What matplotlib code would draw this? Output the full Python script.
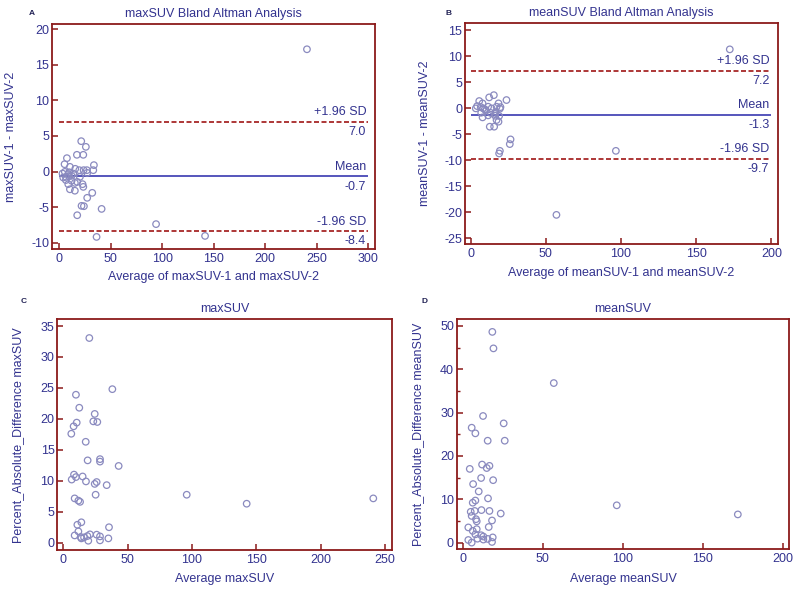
import numpy as np
import matplotlib.pyplot as plt
from matplotlib.ticker import MultipleLocator
import matplotlib.transforms as mtransforms

plt.rcParams['font.family'] = ['Liberation Sans', 'DejaVu Sans']
plt.rcParams['font.size'] = 9
plt.rcParams['axes.unicode_minus'] = False

# ---------------- data ----------------
# A: maxSUV Bland Altman
a_avg = [240.7, 21.4, 25.9, 7.5, 17.2, 23.4, 5.2, 10.4, 15.6, 19.5, 23.7, 26.9,
         33.7, 33.1, 27.2, 13.6, 9.7, 3.9, 6.5, 8.8, 12.0, 3.2, 6.5, 9.7, 8.8,
         12.0, 15.2, 22.7, 23.4, 10.4, 15.2, 17.5, 32.1, 27.2, 21.7, 24.0, 17.5,
         41.2, 36.3, 94.1, 141.7, 5.5, 20.1]
a_diff = [17.2, 4.27, 3.47, 1.88, 2.35, 2.35, 1.03, 0.66, 0.38, 0.19, 0.19, 0.19,
          0.9, 0.19, -0.19, -0.28, -0.1, -0.85, -0.75, -0.38, -0.6, -0.28, -1.2,
          -0.66, -1.78, -1.3, -1.6, -1.78, -2.16, -2.5, -2.7, -1.46, -3.0, -3.7,
          -4.83, -4.88, -6.15, -5.26, -9.2, -7.4, -9.06, -0.05, -0.75]
a_mean, a_hi, a_lo = -0.7, 7.0, -8.4

# B: meanSUV Bland Altman
b_avg = [172.3, 15.5, 12.4, 23.9, 5.8, 8.0, 4.4, 18.6, 17.3, 11.7, 3.5, 8.4,
         14.0, 19.5, 10.2, 7.1, 16.8, 11.7, 8.0, 16.4, 19.0, 17.3, 18.6, 12.8,
         15.7, 26.6, 26.1, 19.5, 19.0, 96.6, 57.1, 6.8, 9.5, 13.3, 19.9, 16.2]
b_diff = [11.3, 2.5, 2.07, 1.56, 1.37, 0.92, 0.4, 0.92, 0.28, 0.28, -0.04, -0.04,
          -0.04, -0.1, -0.49, -0.87, -0.74, -1.38, -1.77, -1.45, -1.5, -2.28,
          -2.6, -3.56, -3.56, -6.0, -6.9, -8.2, -8.7, -8.2, -20.5, 0.2, -0.2,
          -0.9, 0.2, -1.1]
b_mean, b_hi, b_lo = -1.3, 7.2, -9.7

# C: maxSUV percent absolute difference
c_avg = [20.2, 38.1, 9.8, 12.4, 24.4, 10.4, 8.0, 23.3, 26.4, 6.2, 17.4, 18.9,
         28.5, 28.5, 43.0, 8.3, 6.5, 9.8, 15.0, 17.6, 25.9, 24.4, 33.7, 25.1,
         8.8, 11.7, 13.0, 95.9, 142.5, 240.9, 14.0, 10.9, 35.5, 11.7, 8.8, 13.5,
         14.0, 18.7, 20.7, 25.9, 28.5, 35.0, 19.4, 28.5, 16.1]
c_pct = [33.06, 24.8, 23.9, 21.8, 20.8, 19.4, 18.8, 19.6, 19.5, 17.6, 16.3, 13.3,
         13.5, 13.1, 12.4, 11.0, 10.2, 10.6, 10.7, 9.9, 9.8, 9.5, 9.3, 7.75,
         7.16, 6.8, 6.6, 7.75, 6.3, 7.16, 3.3, 2.9, 2.5, 1.83, 1.18, 0.92, 0.7,
         1.08, 1.35, 1.3, 1.02, 0.7, 0.32, 0.38, 0.86]

# D: meanSUV percent absolute difference
d_avg = [18.5, 19.2, 56.9, 12.7, 25.6, 5.6, 7.9, 15.6, 26.25, 12.1, 16.7, 15.0,
         4.4, 11.5, 19.0, 6.5, 10.0, 15.8, 6.25, 7.9, 96.25, 171.9, 5.0, 7.5,
         11.7, 16.7, 23.75, 5.6, 8.3, 8.75, 18.3, 16.25, 3.5, 8.75, 6.25, 7.9,
         11.5, 12.9, 18.75, 3.5, 5.6, 9.2, 12.9, 15.6, 18.3]
d_pct = [48.6, 44.8, 36.8, 29.2, 27.5, 26.5, 25.2, 23.5, 23.5, 18.0, 17.7, 17.2,
         17.0, 14.9, 14.4, 13.5, 11.8, 10.2, 9.2, 9.7, 8.6, 6.5, 7.1, 7.3, 7.5,
         7.3, 6.7, 6.15, 5.4, 4.9, 5.1, 3.6, 3.5, 3.1, 2.7, 1.9, 1.7, 1.4, 1.2,
         0.6, 0.0, 0.9, 0.7, 0.85, 0.15]

# ---------------- style ----------------
FRAME = '#8b1a1a'
TEXT = '#33338f'
MARK = '#8a8abf'
MEANC = '#3838b0'
SDC = '#a01515'
FS = 9


def style_axes(ax, xlim, ylim, xstep, ystep, yminor=None):
    ax.set_xlim(*xlim)
    ax.set_ylim(*ylim)
    ax.xaxis.set_major_locator(MultipleLocator(xstep))
    ax.yaxis.set_major_locator(MultipleLocator(ystep))
    if yminor:
        ax.yaxis.set_minor_locator(MultipleLocator(yminor))
    for s in ax.spines.values():
        s.set_color(FRAME)
        s.set_linewidth(1.3)
    ax.tick_params(which='major', direction='in', length=4.5, width=1.1,
                   color=FRAME, labelcolor=TEXT, labelsize=FS, pad=3,
                   top=False, right=False)
    ax.tick_params(which='minor', direction='in', length=2.5, width=1.0,
                   color=FRAME, top=False, right=False)
    ax.tick_params(axis='y', pad=2)


def label_axes(ax, title, xlabel, ylabel, xl_y, yl_x):
    ax.set_title(title, color=TEXT, fontsize=FS, pad=5)
    ax.set_xlabel(xlabel, color=TEXT, fontsize=FS)
    ax.set_ylabel(ylabel, color=TEXT, fontsize=FS)
    ax.xaxis.set_label_coords(0.5, xl_y)
    ax.yaxis.set_label_coords(yl_x, 0.5)
    ax.xaxis.label.set_va('center')
    ax.yaxis.label.set_va('center')


def ba_lines(ax, xmax, mean, hi, lo):
    ax.hlines(mean, 0, xmax, color=MEANC, lw=1.2)
    ax.hlines([hi, lo], 0, xmax, color=SDC, lw=1.2, linestyles=(0, (3, 1.5)))
    tr = mtransforms.blended_transform_factory(ax.transAxes, ax.transData)
    for val, name in [(hi, '+1.96 SD'), (mean, 'Mean'), (lo, '-1.96 SD')]:
        ax.annotate(name, (0.972, val), xycoords=tr, xytext=(0, 2.5),
                    textcoords='offset points', ha='right', va='bottom',
                    color=TEXT, fontsize=FS)
        ax.annotate(f'{val:.1f}', (0.972, val), xycoords=tr, xytext=(0, -3),
                    textcoords='offset points', ha='right', va='top',
                    color=TEXT, fontsize=FS)


def scatter(ax, x, y):
    ax.scatter(x, y, s=22, facecolors='none', edgecolors=MARK, linewidths=0.9,
               zorder=3)


fig = plt.figure(figsize=(8, 5.92), dpi=100)

axA = fig.add_axes([0.065, 0.5794, 0.404, 0.380])
axB = fig.add_axes([0.581, 0.5878, 0.3916, 0.3728])
axC = fig.add_axes([0.0716, 0.0709, 0.418, 0.3897])
axD = fig.add_axes([0.5709, 0.0721, 0.4158, 0.3885])

# A
scatter(axA, a_avg, a_diff)
ba_lines(axA, 300, a_mean, a_hi, a_lo)
style_axes(axA, (-7, 307), (-10.9, 20.75), 50, 5)
label_axes(axA, 'maxSUV Bland Altman Analysis', 'Average of maxSUV-1 and maxSUV-2',
           'maxSUV-1 - maxSUV-2', -0.123, -0.127)

# B
scatter(axB, b_avg, b_diff)
ba_lines(axB, 200, b_mean, b_hi, b_lo)
style_axes(axB, (-3.8, 204.4), (-26.1, 16.3), 50, 5)
label_axes(axB, 'meanSUV Bland Altman Analysis', 'Average of meanSUV-1 and meanSUV-2',
           'meanSUV-1 - meanSUV-2', -0.13, -0.128)

# C
scatter(axC, c_avg, c_pct)
style_axes(axC, (-4.7, 255.2), (-1.18, 36.08), 50, 5)
label_axes(axC, 'maxSUV', 'Average maxSUV', 'Percent_Absolute_Difference maxSUV',
           -0.127, -0.118)

# D
scatter(axD, d_avg, d_pct)
style_axes(axD, (-3.75, 204.1), (-1.55, 51.5), 50, 10, yminor=5)
label_axes(axD, 'meanSUV', 'Average meanSUV', 'Percent_Absolute_Difference meanSUV',
           -0.13, -0.116)

# panel letters
for x, y, s in [(0.04, 0.977, 'A'), (0.56, 0.977, 'B'), (0.03, 0.49, 'C'), (0.53, 0.49, 'D')]:
    fig.text(x, y, s, color='#222255', fontsize=6, fontweight='bold', ha='center', va='center')

fig.savefig('out.png', dpi=100)
